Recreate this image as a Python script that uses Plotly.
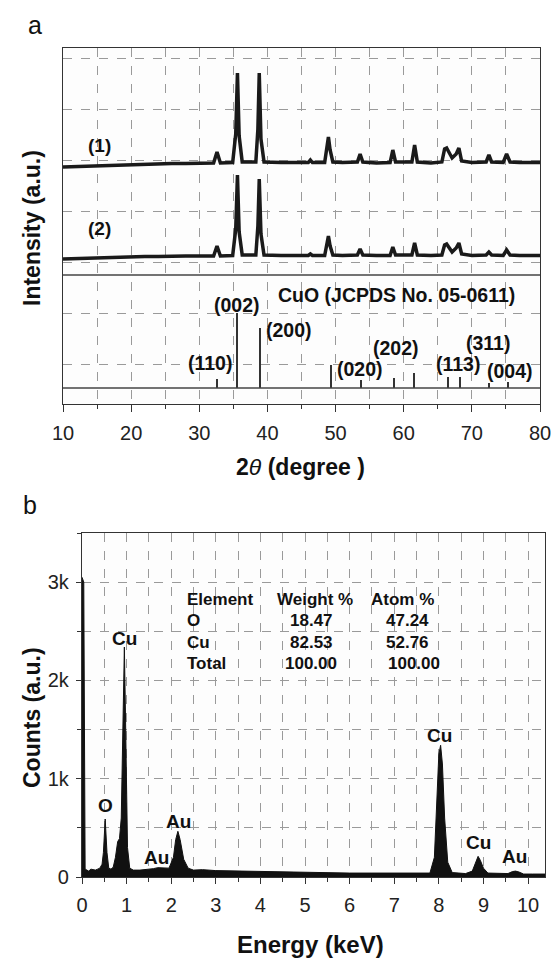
import plotly.graph_objects as go

# ---------------- (a) XRD data ----------------
theta_1 = [10, 12, 14, 16, 18, 20, 22, 24, 26, 28, 30, 32.1, 32.6, 33.1, 34.9, 35.35, 35.6, 35.85,
           36.3, 38.3, 38.6, 38.8, 39.05, 39.5, 42, 44, 46.0, 46.3, 46.6, 48.4, 48.75, 48.95, 49.2,
           49.6, 51, 53.2, 53.6, 54.0, 56, 58.0, 58.4, 58.8, 61.2, 61.6, 62.0, 64, 65.6, 66.0, 66.3,
           66.6, 67.1, 67.7, 68.1, 68.5, 70, 72.1, 72.5, 72.9, 74.6, 75.1, 75.6, 77, 80]
intensity_1 = [237, 237.5, 238, 238.5, 239, 239.5, 240, 240, 240.5, 240.5, 241, 241, 252, 241, 241.5,
               270, 331, 268, 242, 242, 275, 331, 265, 242, 241.5, 241.5, 241.5, 244, 241.5, 241.5,
               258, 267, 254, 242, 241.5, 242, 250, 242, 241, 241.5, 254, 242, 242, 259, 242, 241,
               242, 255, 256, 252, 246, 250, 256, 243, 241.5, 242, 249, 242, 241.5, 250, 242, 241.5,
               241.5]

theta_2 = theta_1
intensity_2 = [145, 145.5, 146, 146.5, 147, 147, 147.5, 147.5, 148, 148, 148, 148, 158, 148, 148.5,
               175, 229, 172, 149, 149, 178, 225, 170, 149, 148.5, 148.5, 148.5, 150, 148.5, 148.5,
               160, 168, 158, 149, 148.5, 149, 155, 149, 148.5, 148.5, 157, 149, 149, 161, 149, 148.5,
               149, 159, 160, 157, 152, 156, 161, 150, 148.5, 149, 152, 149, 148.5, 154, 149, 148.5,
               148.5]

# JCPDS reference sticks
stick_theta = [32.6, 35.6, 38.9, 49.3, 53.7, 58.6, 61.6, 66.6, 68.3, 72.6, 75.3]
stick_height = [9, 75, 60, 23, 8, 10, 15, 11, 11.5, 5, 6]
stick_base = 16
ref_line_level = 129

hkl_labels = ["(110)", "(002)", "(200)", "(020)", "(202)", "(113)", "(311)", "(004)"]
hkl_label_x = [31.6, 35.6, 43.1, 53.6, 58.8, 67.9, 72.4, 75.6]
hkl_label_y = [41, 99, 74, 35, 56, 40, 61, 33]

# ---------------- (b) EDS data ----------------
energy_kev = [0.0, 0.04, 0.07, 0.1, 0.15, 0.2, 0.25, 0.3, 0.35, 0.4, 0.45, 0.48, 0.52, 0.56, 0.6,
              0.65, 0.7, 0.75, 0.8, 0.84, 0.88, 0.92, 0.95, 0.98, 1.02, 1.07, 1.15, 1.3, 1.5, 1.6,
              1.7, 1.8, 1.95, 2.05, 2.1, 2.15, 2.2, 2.28, 2.38, 2.5, 2.7, 3.0, 3.5, 4.0, 4.5, 5.0,
              5.5, 6.0, 6.5, 7.0, 7.5, 7.8, 7.9, 7.95, 8.0, 8.04, 8.08, 8.13, 8.2, 8.3, 8.6, 8.75,
              8.83, 8.88, 8.93, 9.0, 9.1, 9.3, 9.55, 9.65, 9.72, 9.8, 9.9, 10.1, 10.4]
counts = [3050, 3000, 80, 70, 60, 80, 75, 70, 80, 90, 130, 250, 590, 250, 90,
          80, 100, 200, 360, 390, 600, 1800, 2340, 1500, 300, 90, 70, 70, 75, 85,
          95, 90, 90, 200, 380, 465, 380, 180, 90, 70, 75, 65, 60, 55, 55, 50,
          45, 40, 40, 38, 35, 40, 200, 700, 1250, 1340, 1150, 600, 150, 45, 35, 60,
          150, 210, 170, 90, 40, 35, 35, 55, 60, 50, 30, 30, 30]

eds_labels = ["Cu", "O", "Au", "Au", "Cu", "Cu", "Au"]
eds_label_x = [0.95, 0.52, 2.16, 1.66, 8.01, 8.88, 9.69]
eds_label_y = [2430, 730, 560, 200, 1440, 350, 210]

table_header = ["Element", "Weight %", "Atom %"]
table_elements = ["O", "Cu", "Total"]
table_weight = ["18.47", "82.53", "100.00"]
table_atom = ["47.24", "52.76", "100.00"]

# ---------------- figure ----------------
W, H = 552, 958
FONT = "Liberation Sans, Arial, sans-serif"
INK = "#1a1a1a"
GRID = "#9a9a9a"


def px_x(p):
    return p / W


def px_y(p):
    return 1 - p / H


fig = go.Figure()

fig.add_trace(go.Scatter(x=theta_1, y=intensity_1, mode="lines",
                         line=dict(color=INK, width=3.5), xaxis="x", yaxis="y",
                         showlegend=False, hoverinfo="skip"))
fig.add_trace(go.Scatter(x=theta_2, y=intensity_2, mode="lines",
                         line=dict(color=INK, width=3.5), xaxis="x", yaxis="y",
                         showlegend=False, hoverinfo="skip"))
fig.add_trace(go.Bar(x=stick_theta, y=stick_height, base=stick_base, width=0.22,
                     marker=dict(color="#333333", line=dict(width=0)),
                     xaxis="x", yaxis="y", showlegend=False, hoverinfo="skip"))

fig.add_trace(go.Scatter(x=energy_kev, y=counts, mode="lines", fill="tozeroy",
                         fillcolor="#111111", line=dict(color="#111111", width=1),
                         xaxis="x2", yaxis="y2", showlegend=False, hoverinfo="skip"))

tickfont = dict(family=FONT, size=20, color="#222222")

fig.update_layout(
    width=W, height=H,
    margin=dict(l=0, r=0, t=0, b=0),
    paper_bgcolor="white",
    plot_bgcolor="#fdfdfd",
    bargap=0,
    xaxis=dict(domain=[px_x(63), px_x(540)], range=[10, 80], anchor="y",
               tickvals=[10, 20, 30, 40, 50, 60, 70, 80], ticks="outside", ticklen=7,
               tickwidth=1.2, tickcolor="#333", tickfont=tickfont,
               ticklabelstandoff=4,
               showline=True, linecolor="#333", linewidth=1.3, mirror=True,
               showgrid=True, gridcolor=GRID, griddash="dash", gridwidth=1,
               minor=dict(dtick=5, tick0=0, ticks="outside", ticklen=4, tickcolor="#333",
                          showgrid=True, gridcolor=GRID, griddash="dash", gridwidth=1),
               zeroline=False, automargin=False, fixedrange=True),
    yaxis=dict(domain=[px_y(404), px_y(48)], range=[0, 356], anchor="x",
               tick0=40, dtick=51, showticklabels=False, ticks="",
               showline=True, linecolor="#333", linewidth=1.3, mirror=True,
               showgrid=True, gridcolor=GRID, griddash="dash", gridwidth=1,
               zeroline=False, automargin=False, fixedrange=True),
    xaxis2=dict(domain=[px_x(82), px_x(545)], range=[0, 10.38], anchor="y2",
                tickvals=list(range(0, 11)), ticks="outside", ticklen=6,
                tickwidth=1.2, tickcolor="#333", tickfont=tickfont,
                ticklabelstandoff=4,
                showline=True, linecolor="#333", linewidth=1.3, mirror=True,
                showgrid=True, gridcolor=GRID, griddash="dash", gridwidth=1,
                minor=dict(dtick=0.5, tick0=0, ticks="outside", ticklen=4, tickcolor="#333",
                           showgrid=True, gridcolor=GRID, griddash="dash", gridwidth=1),
                zeroline=False, automargin=False, fixedrange=True),
    yaxis2=dict(domain=[px_y(877), px_y(533)], range=[0, 3500], anchor="x2",
                tickvals=[0, 1000, 2000, 3000], ticktext=["0", "1k", "2k", "3k"],
                ticks="outside", ticklen=5, tickwidth=1.2, tickcolor="#333",
                tickfont=tickfont, ticklabelstandoff=3,
                showline=True, linecolor="#333", linewidth=1.3, mirror=True,
                showgrid=True, gridcolor=GRID, griddash="dash", gridwidth=1,
                minor=dict(dtick=500, tick0=0, ticks="outside", ticklen=4, tickcolor="#333",
                           showgrid=True, gridcolor=GRID, griddash="dash", gridwidth=1),
                zeroline=False, automargin=False, fixedrange=True),
)

# separator lines in panel (a)
for lvl in (ref_line_level, stick_base):
    fig.add_shape(type="line", xref="x domain", yref="y", x0=0, x1=1, y0=lvl, y1=lvl,
                  line=dict(color="#444", width=1.3), layer="above")

bold = lambda s: f"<b>{s}</b>"
anns = []

# panel letters
anns.append(dict(text="a", x=px_x(35), y=px_y(25), xref="paper", yref="paper",
                 showarrow=False, font=dict(family=FONT, size=25, color="#111"),
                 xanchor="center", yanchor="middle"))
anns.append(dict(text="b", x=px_x(30), y=px_y(505), xref="paper", yref="paper",
                 showarrow=False, font=dict(family=FONT, size=25, color="#111"),
                 xanchor="center", yanchor="middle"))

# axis titles
anns.append(dict(text=bold("Intensity (a.u.)"), x=px_x(32), y=px_y(228), xref="paper", yref="paper",
                 textangle=-90, showarrow=False, font=dict(family=FONT, size=23, color="#111"),
                 xanchor="center", yanchor="middle"))
anns.append(dict(text=bold("Counts (a.u.)"), x=px_x(32), y=px_y(718), xref="paper", yref="paper",
                 textangle=-90, showarrow=False, font=dict(family=FONT, size=23, color="#111"),
                 xanchor="center", yanchor="middle"))
anns.append(dict(text="<b>2</b><i>θ</i><b> (degree )</b>", x=px_x(300), y=px_y(467),
                 xref="paper", yref="paper", showarrow=False,
                 font=dict(family=FONT, size=23, color="#111"), xanchor="center", yanchor="middle"))
anns.append(dict(text=bold("Energy (keV)"), x=px_x(310), y=px_y(944),
                 xref="paper", yref="paper", showarrow=False,
                 font=dict(family=FONT, size=24, color="#111"), xanchor="center", yanchor="middle"))

# panel (a) labels
anns.append(dict(text=bold("(1)"), x=15.4, y=259, xref="x", yref="y", showarrow=False,
                 font=dict(family=FONT, size=19, color="#111"), xanchor="center", yanchor="middle"))
anns.append(dict(text=bold("(2)"), x=15.4, y=176, xref="x", yref="y", showarrow=False,
                 font=dict(family=FONT, size=19, color="#111"), xanchor="center", yanchor="middle"))
anns.append(dict(text=bold("CuO (JCPDS No. 05-0611)"), x=59.0, y=109, xref="x", yref="y",
                 showarrow=False, font=dict(family=FONT, size=19.5, color="#111"),
                 xanchor="center", yanchor="middle"))
for t, lx, ly in zip(hkl_labels, hkl_label_x, hkl_label_y):
    anns.append(dict(text=bold(t), x=lx, y=ly, xref="x", yref="y", showarrow=False,
                     font=dict(family=FONT, size=19.5, color="#111"),
                     xanchor="center", yanchor="middle"))

# panel (b) labels
for t, lx, ly in zip(eds_labels, eds_label_x, eds_label_y):
    anns.append(dict(text=bold(t), x=lx, y=ly, xref="x2", yref="y2", showarrow=False,
                     font=dict(family=FONT, size=19, color="#111"),
                     xanchor="center", yanchor="middle"))

# EDS table
row_y = [2820, 2610, 2390, 2170]
tfont = dict(family=FONT, size=17, color="#111")
anns.append(dict(text=bold(table_header[0]), x=2.3, y=row_y[0], xref="x2", yref="y2",
                 showarrow=False, font=tfont, xanchor="left", yanchor="middle"))
anns.append(dict(text=bold(table_header[1]), x=5.23, y=row_y[0], xref="x2", yref="y2",
                 showarrow=False, font=tfont, xanchor="center", yanchor="middle"))
anns.append(dict(text=bold(table_header[2]), x=7.19, y=row_y[0], xref="x2", yref="y2",
                 showarrow=False, font=tfont, xanchor="center", yanchor="middle"))
for i in range(3):
    anns.append(dict(text=bold(table_elements[i]), x=2.3, y=row_y[i + 1], xref="x2", yref="y2",
                     showarrow=False, font=tfont, xanchor="left", yanchor="middle"))
    anns.append(dict(text=bold(table_weight[i]), x=5.14, y=row_y[i + 1], xref="x2", yref="y2",
                     showarrow=False, font=tfont, xanchor="center", yanchor="middle"))
    anns.append(dict(text=bold(table_atom[i]), x=7.3 if i < 2 else 7.45, y=row_y[i + 1],
                     xref="x2", yref="y2", showarrow=False, font=tfont,
                     xanchor="center", yanchor="middle"))

fig.update_layout(annotations=anns)

fig.write_html("out.html", config={"displayModeBar": False},
               post_script="document.body.style.margin='0';document.body.style.overflow='hidden';")
